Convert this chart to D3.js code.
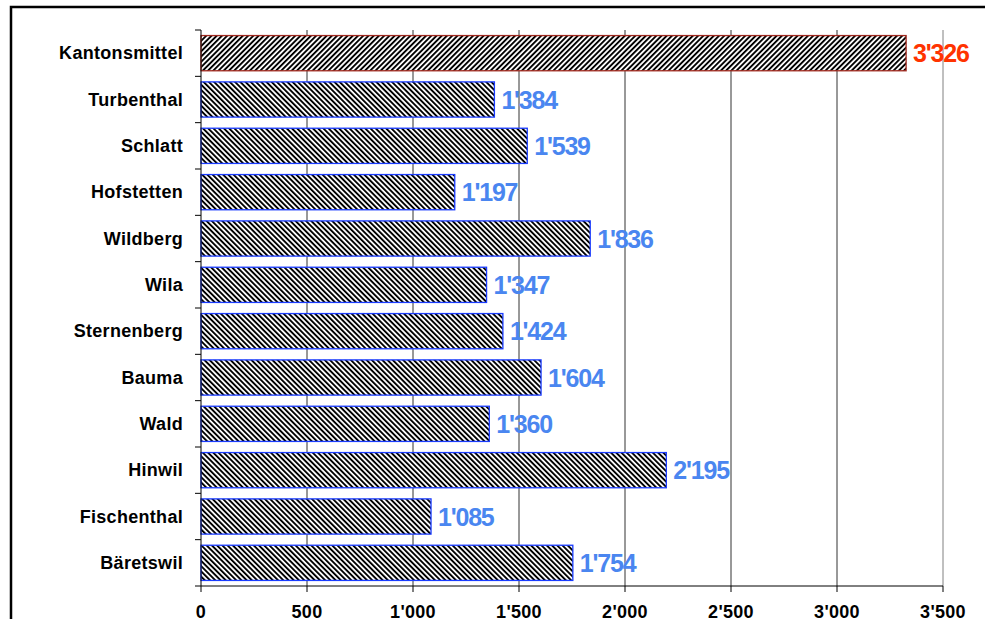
<!DOCTYPE html>
<html>
<head>
<meta charset="utf-8">
<script src="https://cdn.jsdelivr.net/npm/d3@7"></script>
<style>
  body { margin: 0; background: #fff; }
  svg { display: block; font-family: "Liberation Sans", Arial, sans-serif; font-weight: bold; }
</style>
</head>
<body>
<div id="chart"></div>
<script>
'use strict';
(function(){

	// data
	var categories = ['Kantonsmittel', 'Turbenthal', 'Schlatt', 'Hofstetten', 'Wildberg', 'Wila',
		'Sternenberg', 'Bauma', 'Wald', 'Hinwil', 'Fischenthal', 'Bäretswil'];
	var values = [3326, 1384, 1539, 1197, 1836, 1347, 1424, 1604, 1360, 2195, 1085, 1754];
	var xTicks = [0, 500, 1000, 1500, 2000, 2500, 3000, 3500];

	var width = 985, height = 619;
	var left = 201, right = 943, top = 30, bottom = 586;

	var fmt = function (d) {
		return d3.format(',')(d).replace(/,/g, "'");
	};

	var svg = d3.select('#chart')
		.append('svg')
		.attr('width', width)
		.attr('height', height);

	// stripe patterns
	var defs = svg.append('defs');
	function stripes(id, angle) {
		var p = defs.append('pattern')
			.attr('id', id)
			.attr('patternUnits', 'userSpaceOnUse')
			.attr('width', 3.7)
			.attr('height', 4)
			.attr('patternTransform', 'rotate(' + angle + ')');
		p.append('rect').attr('width', 3.7).attr('height', 4).attr('fill', '#fff');
		p.append('rect').attr('width', 1.9).attr('height', 4).attr('fill', '#000');
	}
	stripes('hatchUp', 45);
	stripes('hatchDown', -45);

	// outer frame
	svg.append('path')
		.attr('d', 'M11,' + (height + 5) + 'V7H' + (width + 5))
		.attr('fill', 'none')
		.attr('stroke', '#000')
		.attr('stroke-width', 2.5);

	var x = d3.scaleLinear().domain([0, 3500]).range([left, right]);
	var y = d3.scaleBand().domain(categories).range([top, bottom]).paddingInner(0.24).paddingOuter(0.12);

	// grid lines
	svg.append('g')
		.selectAll('line')
		.data(xTicks.slice(1))
		.enter()
		.append('line')
		.attr('x1', function (d) { return x(d); })
		.attr('x2', function (d) { return x(d); })
		.attr('y1', top)
		.attr('y2', bottom)
		.attr('stroke', function (d) { return d === 3500 ? '#808080' : '#333'; })
		.attr('stroke-width', 1);

	// bars
	svg.append('g')
		.selectAll('rect')
		.data(values)
		.enter()
		.append('rect')
		.attr('x', x(0))
		.attr('y', function (d, i) { return y(categories[i]); })
		.attr('width', function (d) { return x(d) - x(0); })
		.attr('height', y.bandwidth())
		.attr('fill', function (d, i) { return i === 0 ? 'url(#hatchUp)' : 'url(#hatchDown)'; })
		.attr('stroke', function (d, i) { return i === 0 ? '#a0281e' : '#1a3cff'; })
		.attr('stroke-width', 1.3);

	// value labels
	svg.append('g')
		.selectAll('text')
		.data(values)
		.enter()
		.append('text')
		.attr('x', function (d) { return x(d) + 7; })
		.attr('y', function (d, i) { return y(categories[i]) + y.bandwidth() / 2; })
		.attr('dy', '0.36em')
		.attr('font-size', 25)
		.attr('letter-spacing', -1.2)
		.attr('fill', function (d, i) { return i === 0 ? '#ff3300' : '#4a86f0'; })
		.text(fmt);

	// y axis
	var yAxis = svg.append('g');
	yAxis.append('line')
		.attr('x1', left).attr('x2', left)
		.attr('y1', top).attr('y2', bottom)
		.attr('stroke', '#000');
	yAxis.selectAll('line.tick')
		.data(d3.range(categories.length + 1))
		.enter()
		.append('line')
		.attr('class', 'tick')
		.attr('x1', left - 6).attr('x2', left)
		.attr('y1', function (i) { return top + i * (bottom - top) / categories.length; })
		.attr('y2', function (i) { return top + i * (bottom - top) / categories.length; })
		.attr('stroke', '#000');
	yAxis.selectAll('text')
		.data(categories)
		.enter()
		.append('text')
		.attr('x', 183)
		.attr('y', function (d) { return y(d) + y.bandwidth() / 2; })
		.attr('dy', '0.35em')
		.attr('text-anchor', 'end')
		.attr('font-size', 18)
		.attr('letter-spacing', 0.3)
		.attr('fill', '#000')
		.text(function (d) { return d; });

	// x axis
	var xAxis = svg.append('g').attr('transform', 'translate(0,' + bottom + ')');
	xAxis.append('line')
		.attr('x1', left).attr('x2', right)
		.attr('stroke', '#000');
	xAxis.selectAll('line.tick')
		.data(xTicks)
		.enter()
		.append('line')
		.attr('class', 'tick')
		.attr('x1', function (d) { return x(d); })
		.attr('x2', function (d) { return x(d); })
		.attr('y1', 0).attr('y2', 6)
		.attr('stroke', '#000');
	xAxis.selectAll('text')
		.data(xTicks)
		.enter()
		.append('text')
		.attr('x', function (d) { return x(d); })
		.attr('y', 32)
		.attr('text-anchor', 'middle')
		.attr('font-size', 18)
		.attr('letter-spacing', 0.3)
		.attr('fill', '#000')
		.text(fmt);

}());
</script>
</body>
</html>
